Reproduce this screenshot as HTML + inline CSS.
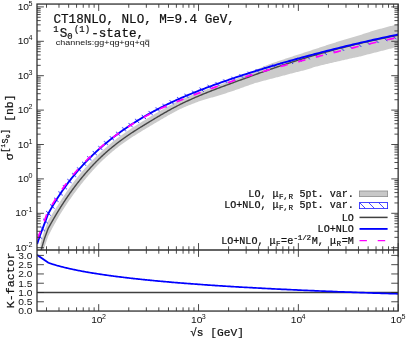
<!DOCTYPE html>
<html><head><meta charset="utf-8"><title>plot</title>
<style>html,body{margin:0;padding:0;background:#fff;}body{width:407px;height:339px;overflow:hidden;font-family:"Liberation Sans",sans-serif;}svg{display:block;}text{filter:grayscale(1);}</style>
</head><body>
<svg width="407" height="339" viewBox="0 0 407 339">
<defs>
<clipPath id="cu"><rect x="37.0" y="4.05" width="361.15" height="245.95"/></clipPath>
<clipPath id="cl"><rect x="37.0" y="250.0" width="361.15" height="61.05000000000001"/></clipPath>
<clipPath id="ch"><path d="M34.31,243.04 L34.67,242.01 L35.01,240.96 L35.35,239.91 L35.69,238.86 L36.04,237.80 L36.38,236.75 L36.72,235.70 L37.06,234.65 L37.46,233.61 L37.86,232.57 L38.26,231.53 L38.66,230.50 L39.05,229.46 L39.45,228.43 L39.85,227.39 L40.24,226.37 L40.64,225.35 L41.03,224.32 L41.42,223.30 L41.81,222.28 L42.20,221.26 L42.59,220.23 L42.99,219.18 L43.37,218.12 L43.75,217.06 L44.13,215.99 L44.51,214.92 L44.90,213.86 L45.36,212.82 L45.90,211.82 L46.45,210.82 L47.01,209.82 L47.57,208.82 L48.13,207.83 L48.69,206.84 L49.26,205.87 L49.82,204.91 L50.38,203.95 L50.95,203.00 L51.52,202.05 L52.10,201.10 L52.68,200.15 L53.27,199.20 L53.86,198.26 L54.45,197.32 L55.05,196.38 L55.65,195.45 L56.26,194.52 L56.87,193.59 L57.48,192.66 L58.10,191.74 L58.73,190.81 L59.35,189.90 L59.99,188.98 L60.62,188.07 L61.26,187.16 L61.91,186.25 L62.56,185.35 L63.21,184.45 L63.86,183.55 L64.53,182.65 L65.19,181.76 L65.86,180.87 L66.53,179.99 L67.21,179.10 L67.89,178.22 L68.58,177.35 L69.27,176.48 L69.96,175.61 L70.66,174.74 L71.36,173.88 L72.07,173.02 L72.78,172.16 L73.49,171.31 L74.21,170.46 L74.93,169.61 L75.66,168.77 L76.39,167.93 L77.12,167.09 L77.86,166.26 L78.60,165.43 L79.35,164.60 L80.10,163.78 L80.85,162.96 L81.61,162.15 L82.37,161.33 L83.14,160.53 L83.90,159.72 L84.68,158.92 L85.45,158.12 L86.23,157.33 L87.02,156.54 L87.80,155.75 L88.59,154.97 L89.39,154.19 L90.19,153.42 L90.99,152.65 L91.79,151.88 L92.60,151.12 L93.41,150.35 L94.23,149.60 L95.05,148.85 L95.87,148.10 L96.69,147.35 L97.52,146.61 L98.35,145.87 L99.19,145.14 L100.03,144.41 L100.87,143.68 L101.71,142.96 L102.56,142.24 L103.41,141.52 L104.27,140.81 L105.12,140.10 L105.98,139.40 L106.85,138.70 L107.71,138.00 L108.58,137.31 L109.46,136.62 L110.33,135.94 L111.21,135.26 L112.09,134.58 L112.97,133.90 L113.86,133.23 L114.75,132.57 L115.64,131.91 L116.53,131.25 L117.43,130.59 L118.33,129.94 L119.23,129.29 L120.14,128.65 L121.05,128.01 L121.96,127.38 L122.87,126.75 L123.79,126.12 L124.70,125.49 L125.62,124.87 L126.55,124.26 L127.47,123.64 L128.40,123.03 L129.33,122.43 L130.26,121.83 L131.20,121.23 L132.13,120.63 L133.07,120.04 L134.01,119.45 L134.95,118.87 L135.90,118.29 L136.85,117.71 L137.79,117.13 L138.75,116.56 L139.70,116.00 L140.65,115.43 L141.61,114.87 L142.57,114.32 L143.53,113.76 L144.49,113.21 L145.46,112.66 L146.42,112.12 L147.39,111.58 L148.36,111.04 L149.33,110.51 L150.30,109.98 L151.28,109.45 L152.25,108.93 L153.23,108.41 L154.21,107.89 L155.19,107.38 L156.18,106.87 L157.16,106.36 L158.15,105.85 L159.13,105.35 L160.12,104.85 L161.11,104.36 L162.10,103.86 L163.10,103.38 L164.09,102.89 L165.09,102.41 L166.08,101.93 L167.08,101.45 L168.08,100.97 L169.08,100.50 L170.09,100.03 L171.09,99.57 L172.10,99.11 L173.10,98.65 L174.11,98.19 L175.12,97.73 L176.13,97.28 L177.14,96.84 L178.15,96.39 L179.17,95.95 L180.18,95.51 L181.20,95.07 L182.21,94.64 L183.23,94.20 L184.25,93.77 L185.27,93.35 L186.29,92.92 L187.31,92.50 L188.33,92.08 L189.36,91.66 L190.38,91.25 L191.40,90.84 L192.43,90.43 L193.46,90.02 L194.48,89.61 L195.51,89.21 L196.54,88.81 L197.57,88.41 L198.60,88.01 L199.63,87.62 L200.66,87.23 L201.70,86.85 L202.74,86.47 L203.77,86.09 L204.81,85.71 L205.85,85.34 L206.88,84.96 L207.92,84.59 L208.96,84.22 L210.00,83.85 L211.04,83.49 L212.08,83.12 L213.12,82.76 L214.16,82.39 L215.20,82.03 L216.25,81.67 L217.29,81.32 L218.33,80.96 L219.37,80.61 L220.42,80.25 L221.46,79.90 L222.51,79.55 L223.55,79.20 L224.60,78.85 L225.64,78.50 L226.69,78.16 L227.73,77.81 L228.78,77.47 L229.83,77.13 L230.88,76.79 L231.92,76.45 L232.97,76.11 L234.02,75.77 L235.07,75.43 L236.12,75.10 L237.17,74.76 L238.22,74.43 L239.27,74.10 L240.32,73.77 L241.37,73.44 L242.42,73.11 L243.47,72.78 L244.52,72.46 L245.57,72.13 L246.63,71.81 L247.68,71.49 L248.73,71.16 L249.78,70.84 L250.84,70.52 L251.89,70.21 L252.94,69.89 L254.00,69.57 L255.05,69.26 L256.11,68.94 L257.16,68.63 L258.22,68.32 L259.27,68.00 L260.33,67.70 L261.39,67.40 L262.45,67.09 L263.51,66.79 L264.57,66.49 L265.63,66.19 L266.69,65.90 L267.75,65.60 L268.81,65.30 L269.87,65.01 L270.93,64.71 L271.99,64.42 L273.05,64.13 L274.11,63.84 L275.17,63.55 L276.23,63.26 L277.29,62.97 L278.36,62.68 L279.42,62.39 L280.48,62.11 L281.54,61.82 L282.61,61.54 L283.67,61.26 L284.73,60.97 L285.79,60.69 L286.86,60.41 L287.92,60.13 L288.99,59.85 L290.05,59.57 L291.11,59.30 L292.18,59.02 L293.24,58.74 L294.31,58.47 L295.37,58.19 L296.44,57.92 L297.51,57.65 L298.57,57.38 L299.64,57.11 L300.70,56.83 L301.77,56.56 L302.83,56.29 L303.90,56.02 L304.97,55.75 L306.03,55.48 L307.10,55.21 L308.17,54.95 L309.23,54.68 L310.30,54.41 L311.37,54.15 L312.43,53.88 L313.50,53.62 L314.57,53.36 L315.64,53.09 L316.70,52.83 L317.77,52.57 L318.84,52.31 L319.91,52.05 L320.98,51.79 L322.05,51.54 L323.12,51.28 L324.18,51.02 L325.25,50.77 L326.32,50.51 L327.39,50.26 L328.46,50.00 L329.53,49.75 L330.60,49.50 L331.67,49.25 L332.74,49.00 L333.81,48.75 L334.89,48.50 L335.96,48.25 L337.03,48.01 L338.10,47.76 L339.17,47.51 L340.24,47.27 L341.31,47.01 L342.38,46.75 L343.45,46.50 L344.52,46.24 L345.59,45.99 L346.66,45.74 L347.73,45.48 L348.80,45.23 L349.87,44.98 L350.94,44.73 L352.01,44.48 L353.08,44.23 L354.15,43.99 L355.22,43.74 L356.29,43.50 L357.36,43.25 L358.43,43.01 L359.51,42.76 L360.58,42.52 L361.65,42.28 L362.72,42.04 L363.79,41.80 L364.87,41.56 L365.94,41.32 L367.01,41.08 L368.09,40.84 L369.16,40.61 L370.23,40.37 L371.31,40.14 L372.38,39.90 L373.45,39.67 L374.53,39.44 L375.60,39.21 L376.68,38.97 L377.75,38.74 L378.83,38.52 L379.90,38.29 L380.98,38.06 L382.05,37.83 L383.13,37.61 L384.20,37.38 L385.28,37.16 L386.35,36.93 L387.43,36.71 L388.51,36.49 L389.58,36.27 L390.66,36.05 L391.74,35.83 L392.81,35.61 L393.89,35.39 L394.97,35.17 L396.04,34.96 L397.12,34.74 L398.20,34.53 L399.07,38.74 L397.99,38.96 L396.92,39.17 L395.84,39.39 L394.77,39.61 L393.69,39.83 L392.62,40.05 L391.54,40.27 L390.47,40.49 L389.40,40.71 L388.33,40.94 L387.25,41.16 L386.18,41.38 L385.11,41.61 L384.04,41.84 L382.96,42.06 L381.89,42.29 L380.82,42.52 L379.75,42.75 L378.68,42.98 L377.61,43.21 L376.54,43.44 L375.46,43.68 L374.39,43.91 L373.32,44.14 L372.25,44.38 L371.18,44.61 L370.11,44.85 L369.04,45.09 L367.97,45.33 L366.90,45.56 L365.84,45.80 L364.77,46.05 L363.70,46.29 L362.63,46.53 L361.56,46.77 L360.49,47.02 L359.42,47.26 L358.36,47.51 L357.29,47.75 L356.22,48.00 L355.15,48.25 L354.09,48.49 L353.02,48.74 L351.95,48.99 L350.88,49.24 L349.82,49.50 L348.75,49.75 L347.69,50.00 L346.62,50.26 L345.55,50.51 L344.49,50.77 L343.42,51.02 L342.36,51.28 L341.29,51.54 L340.23,51.79 L339.16,52.05 L338.10,52.30 L337.03,52.56 L335.96,52.82 L334.90,53.08 L333.83,53.34 L332.77,53.60 L331.70,53.86 L330.64,54.12 L329.58,54.38 L328.51,54.64 L327.45,54.91 L326.38,55.17 L325.32,55.44 L324.26,55.70 L323.19,55.97 L322.13,56.24 L321.07,56.50 L320.01,56.77 L318.94,57.04 L317.88,57.31 L316.82,57.58 L315.76,57.85 L314.69,58.13 L313.63,58.40 L312.57,58.67 L311.51,58.95 L310.45,59.22 L309.39,59.50 L308.33,59.78 L307.27,60.05 L306.21,60.33 L305.15,60.61 L304.09,60.89 L303.03,61.17 L301.97,61.45 L300.91,61.73 L299.85,62.00 L298.78,62.28 L297.72,62.55 L296.66,62.82 L295.60,63.09 L294.54,63.37 L293.47,63.64 L292.41,63.92 L291.35,64.19 L290.29,64.47 L289.23,64.75 L288.17,65.03 L287.11,65.31 L286.05,65.59 L284.99,65.87 L283.93,66.15 L282.87,66.44 L281.81,66.72 L280.76,67.00 L279.70,67.29 L278.64,67.58 L277.58,67.86 L276.52,68.15 L275.47,68.44 L274.41,68.73 L273.35,69.02 L272.30,69.32 L271.24,69.61 L270.18,69.90 L269.13,70.20 L268.07,70.49 L267.02,70.79 L265.96,71.09 L264.91,71.39 L263.85,71.69 L262.80,71.99 L261.74,72.29 L260.69,72.59 L259.64,72.91 L258.59,73.23 L257.54,73.55 L256.49,73.87 L255.45,74.19 L254.40,74.51 L253.35,74.83 L252.30,75.15 L251.26,75.48 L250.21,75.81 L249.17,76.13 L248.12,76.46 L247.07,76.79 L246.03,77.12 L244.98,77.45 L243.94,77.78 L242.90,78.12 L241.85,78.45 L240.81,78.79 L239.77,79.12 L238.72,79.46 L237.68,79.80 L236.64,80.14 L235.60,80.48 L234.56,80.82 L233.52,81.17 L232.48,81.51 L231.44,81.86 L230.40,82.20 L229.36,82.55 L228.32,82.90 L227.28,83.25 L226.24,83.60 L225.21,83.96 L224.17,84.31 L223.13,84.67 L222.10,85.02 L221.06,85.38 L220.03,85.74 L218.99,86.10 L217.96,86.46 L216.93,86.83 L215.90,87.19 L214.86,87.56 L213.83,87.92 L212.80,88.29 L211.77,88.66 L210.74,89.04 L209.71,89.41 L208.68,89.79 L207.66,90.16 L206.63,90.54 L205.60,90.92 L204.58,91.31 L203.55,91.69 L202.53,92.07 L201.51,92.46 L200.49,92.86 L199.47,93.26 L198.45,93.66 L197.44,94.07 L196.42,94.47 L195.41,94.88 L194.39,95.29 L193.38,95.71 L192.37,96.12 L191.36,96.54 L190.35,96.96 L189.34,97.38 L188.34,97.81 L187.33,98.23 L186.33,98.66 L185.32,99.09 L184.32,99.53 L183.32,99.96 L182.32,100.40 L181.32,100.84 L180.32,101.29 L179.33,101.73 L178.33,102.18 L177.34,102.63 L176.35,103.09 L175.35,103.55 L174.37,104.01 L173.38,104.47 L172.39,104.94 L171.40,105.40 L170.42,105.88 L169.44,106.35 L168.46,106.83 L167.48,107.31 L166.50,107.79 L165.52,108.28 L164.55,108.76 L163.57,109.26 L162.60,109.75 L161.63,110.25 L160.66,110.75 L159.70,111.25 L158.73,111.76 L157.77,112.27 L156.81,112.78 L155.84,113.29 L154.89,113.81 L153.93,114.33 L152.97,114.86 L152.02,115.39 L151.07,115.92 L150.12,116.45 L149.17,116.99 L148.23,117.53 L147.28,118.07 L146.34,118.62 L145.40,119.17 L144.46,119.72 L143.53,120.28 L142.59,120.84 L141.66,121.40 L140.73,121.97 L139.80,122.54 L138.88,123.11 L137.95,123.69 L137.03,124.27 L136.11,124.85 L135.20,125.44 L134.28,126.03 L133.37,126.62 L132.46,127.21 L131.55,127.81 L130.65,128.42 L129.74,129.02 L128.84,129.63 L127.94,130.25 L127.05,130.86 L126.15,131.49 L125.26,132.11 L124.38,132.74 L123.49,133.37 L122.61,134.00 L121.73,134.64 L120.85,135.28 L119.97,135.92 L119.10,136.57 L118.23,137.22 L117.36,137.87 L116.49,138.53 L115.63,139.19 L114.77,139.85 L113.91,140.52 L113.06,141.19 L112.21,141.87 L111.36,142.55 L110.51,143.23 L109.67,143.92 L108.83,144.61 L108.00,145.30 L107.16,146.00 L106.33,146.70 L105.50,147.40 L104.68,148.11 L103.86,148.82 L103.04,149.53 L102.23,150.25 L101.42,150.97 L100.61,151.70 L99.80,152.43 L99.00,153.16 L98.21,153.90 L97.41,154.64 L96.62,155.38 L95.83,156.13 L95.05,156.88 L94.27,157.63 L93.49,158.39 L92.72,159.15 L91.95,159.91 L91.18,160.68 L90.42,161.46 L89.66,162.23 L88.90,163.01 L88.15,163.79 L87.40,164.58 L86.66,165.37 L85.92,166.16 L85.18,166.96 L84.45,167.76 L83.72,168.56 L82.99,169.36 L82.27,170.17 L81.55,170.99 L80.84,171.80 L80.12,172.62 L79.42,173.45 L78.71,174.27 L78.02,175.10 L77.32,175.94 L76.63,176.77 L75.94,177.61 L75.26,178.46 L74.58,179.30 L73.90,180.15 L73.23,181.00 L72.56,181.86 L71.90,182.72 L71.24,183.58 L70.59,184.44 L69.93,185.31 L69.29,186.18 L68.64,187.06 L68.00,187.93 L67.37,188.81 L66.74,189.69 L66.11,190.58 L65.49,191.47 L64.87,192.36 L64.25,193.25 L63.64,194.15 L63.03,195.05 L62.43,195.95 L61.83,196.86 L61.24,197.77 L60.65,198.68 L60.06,199.59 L59.48,200.51 L58.90,201.43 L58.32,202.35 L57.75,203.27 L57.19,204.20 L56.62,205.13 L56.06,206.06 L55.51,206.99 L54.96,207.93 L54.41,208.87 L53.87,209.80 L53.35,210.72 L52.83,211.64 L52.31,212.55 L51.80,213.48 L51.29,214.40 L50.78,215.33 L50.35,216.30 L49.99,217.30 L49.64,218.30 L49.28,219.31 L48.93,220.31 L48.57,221.32 L48.19,222.33 L47.80,223.35 L47.40,224.38 L47.01,225.42 L46.62,226.45 L46.22,227.48 L45.83,228.51 L45.44,229.54 L45.05,230.56 L44.66,231.57 L44.27,232.59 L43.88,233.60 L43.49,234.62 L43.10,235.63 L42.71,236.65 L42.37,237.68 L42.04,238.72 L41.70,239.76 L41.36,240.80 L41.03,241.84 L40.69,242.87 L40.35,243.92 L39.99,244.96Z"/></clipPath>
<pattern id="hp" width="10.65" height="10.65" patternUnits="userSpaceOnUse" patternTransform="translate(5.55,0)"><path d="M-1,-1 L11.65,11.65 M-1,9.65 L1,11.65 M9.65,-1 L11.65,1" stroke="#0000ff" stroke-width="0.85" fill="none"/></pattern>
</defs>
<rect width="407" height="339" fill="#fff"/>
<g clip-path="url(#cu)">
<path d="M40.60,243.23 L40.84,242.40 L41.08,241.56 L41.32,240.73 L41.56,239.89 L41.80,239.06 L42.04,238.23 L42.28,237.40 L42.53,236.56 L42.77,235.73 L43.01,234.90 L43.26,234.07 L43.50,233.24 L43.75,232.40 L43.99,231.57 L44.23,230.77 L44.52,229.99 L44.82,229.22 L45.13,228.44 L45.43,227.67 L45.73,226.90 L46.03,226.13 L46.33,225.36 L46.64,224.58 L46.94,223.81 L47.24,223.04 L47.54,222.27 L47.85,221.49 L48.15,220.72 L48.53,220.00 L48.95,219.30 L49.38,218.61 L49.81,217.92 L50.23,217.22 L50.66,216.53 L51.09,215.84 L51.53,215.15 L51.96,214.46 L52.40,213.75 L52.83,213.03 L53.27,212.31 L53.71,211.59 L54.15,210.88 L54.60,210.16 L55.04,209.45 L55.49,208.74 L55.94,208.03 L56.39,207.32 L56.84,206.61 L57.30,205.90 L57.75,205.20 L58.21,204.49 L58.67,203.79 L59.13,203.09 L59.60,202.39 L60.06,201.69 L60.53,200.95 L61.00,200.22 L61.47,199.49 L61.94,198.76 L62.42,198.03 L62.90,197.31 L63.38,196.58 L63.86,195.86 L64.34,195.13 L64.83,194.41 L65.31,193.69 L65.80,192.97 L66.29,192.26 L66.79,191.54 L67.28,190.83 L67.78,190.12 L68.28,189.40 L68.78,188.69 L69.29,187.99 L69.79,187.28 L70.30,186.58 L70.81,185.87 L71.33,185.17 L71.84,184.47 L72.36,183.77 L72.88,183.08 L73.40,182.38 L73.92,181.69 L74.45,181.00 L74.98,180.31 L75.51,179.62 L76.04,178.93 L76.58,178.25 L77.12,177.57 L77.66,176.90 L78.20,176.23 L78.74,175.56 L79.29,174.90 L79.84,174.24 L80.39,173.58 L80.94,172.92 L81.50,172.26 L82.06,171.61 L82.62,170.96 L83.18,170.31 L83.75,169.66 L84.32,169.01 L84.89,168.37 L85.46,167.73 L86.04,167.09 L86.61,166.45 L87.19,165.82 L87.78,165.18 L88.36,164.55 L88.95,163.93 L89.54,163.30 L90.13,162.68 L90.73,162.06 L91.32,161.44 L91.92,160.82 L92.53,160.21 L93.13,159.60 L93.74,158.99 L94.35,158.38 L94.96,157.78 L95.57,157.18 L96.19,156.58 L96.81,155.98 L97.43,155.39 L98.06,154.80 L98.69,154.21 L99.32,153.62 L99.95,153.04 L100.58,152.44 L101.22,151.84 L101.86,151.25 L102.50,150.65 L103.15,150.06 L103.80,149.48 L104.45,148.89 L105.10,148.31 L105.76,147.73 L106.41,147.15 L107.07,146.58 L107.74,146.01 L108.40,145.44 L109.07,144.88 L109.74,144.32 L110.41,143.76 L111.09,143.20 L111.76,142.65 L112.44,142.10 L113.12,141.55 L113.81,141.00 L114.49,140.46 L115.18,139.92 L115.87,139.39 L116.57,138.85 L117.26,138.32 L117.96,137.79 L118.66,137.27 L119.36,136.74 L120.06,136.22 L120.77,135.71 L121.47,135.19 L122.18,134.68 L122.90,134.17 L123.61,133.67 L124.32,133.16 L125.04,132.66 L125.76,132.16 L126.48,131.67 L127.20,131.17 L127.93,130.68 L128.65,130.19 L129.38,129.71 L130.11,129.23 L130.84,128.75 L131.57,128.27 L132.31,127.79 L133.04,127.32 L133.78,126.85 L134.52,126.38 L135.26,125.91 L136.00,125.45 L136.74,124.98 L137.49,124.52 L138.23,124.06 L138.97,123.60 L139.72,123.14 L140.47,122.68 L141.21,122.22 L141.96,121.76 L142.71,121.30 L143.46,120.84 L144.21,120.38 L144.96,119.92 L145.71,119.46 L146.46,119.01 L147.21,118.55 L147.96,118.10 L148.71,117.64 L149.47,117.19 L150.22,116.73 L150.97,116.28 L151.72,115.83 L152.48,115.37 L153.23,114.92 L153.98,114.47 L154.74,114.01 L155.49,113.56 L156.24,113.11 L157.00,112.66 L157.75,112.21 L158.51,111.76 L159.27,111.31 L160.02,110.87 L160.78,110.43 L161.54,110.00 L162.30,109.57 L163.06,109.14 L163.82,108.71 L164.58,108.29 L165.34,107.86 L166.11,107.44 L166.87,107.02 L167.64,106.60 L168.41,106.18 L169.18,105.77 L169.94,105.35 L170.72,104.94 L171.49,104.53 L172.26,104.13 L173.04,103.72 L173.81,103.32 L174.59,102.93 L175.37,102.53 L176.15,102.14 L176.93,101.74 L177.71,101.36 L178.49,100.97 L179.28,100.58 L180.06,100.21 L180.85,99.84 L181.64,99.48 L182.43,99.12 L183.22,98.76 L184.01,98.41 L184.80,98.06 L185.60,97.71 L186.39,97.36 L187.19,97.02 L187.98,96.67 L188.78,96.33 L189.58,96.00 L190.38,95.66 L191.18,95.33 L191.98,95.00 L192.79,94.67 L193.59,94.34 L194.40,94.01 L195.20,93.69 L196.01,93.37 L196.82,93.05 L197.62,92.73 L198.43,92.42 L199.24,92.11 L200.05,91.80 L200.86,91.49 L201.68,91.19 L202.49,90.89 L203.30,90.59 L204.12,90.29 L204.93,89.99 L205.75,89.70 L206.56,89.40 L207.38,89.11 L208.20,88.82 L209.01,88.53 L209.83,88.24 L210.65,87.95 L211.47,87.67 L212.29,87.38 L213.11,87.10 L213.93,86.81 L214.75,86.53 L215.57,86.23 L216.39,85.93 L217.21,85.62 L218.03,85.31 L218.86,85.01 L219.68,84.71 L220.50,84.40 L221.32,84.10 L222.15,83.80 L222.97,83.50 L223.79,83.20 L224.62,82.90 L225.44,82.60 L226.27,82.30 L227.09,82.01 L227.92,81.71 L228.74,81.41 L229.57,81.12 L230.39,80.82 L231.22,80.52 L232.04,80.23 L232.87,79.93 L233.69,79.64 L234.52,79.34 L235.34,79.05 L236.17,78.75 L236.99,78.46 L237.82,78.16 L238.64,77.87 L239.47,77.57 L240.30,77.24 L241.12,76.84 L241.95,76.44 L242.77,76.04 L243.60,75.64 L244.42,75.24 L245.25,74.84 L246.08,74.44 L246.90,74.04 L247.73,73.64 L248.55,73.24 L249.38,72.84 L250.21,72.45 L251.03,72.05 L251.86,71.65 L252.69,71.25 L253.51,70.85 L254.34,70.46 L255.17,70.07 L255.99,69.72 L256.82,69.38 L257.65,69.03 L258.48,68.69 L259.30,68.34 L260.13,68.00 L260.96,67.66 L261.79,67.31 L262.62,66.97 L263.45,66.63 L264.27,66.29 L265.10,65.94 L265.93,65.60 L266.76,65.26 L267.59,64.93 L268.42,64.59 L269.25,64.25 L270.08,63.92 L270.91,63.63 L271.75,63.34 L272.58,63.06 L273.41,62.77 L274.24,62.49 L275.07,62.21 L275.90,61.92 L276.74,61.64 L277.57,61.36 L278.40,61.08 L279.24,60.80 L280.07,60.52 L280.90,60.25 L281.74,59.97 L282.57,59.69 L283.41,59.42 L284.24,59.14 L285.08,58.87 L285.91,58.59 L286.75,58.31 L287.58,58.04 L288.42,57.76 L289.25,57.48 L290.09,57.21 L290.93,56.94 L291.77,56.66 L292.60,56.39 L293.44,56.12 L294.28,55.85 L295.12,55.58 L295.96,55.31 L296.79,55.04 L297.63,54.78 L298.47,54.51 L299.31,54.24 L300.15,53.98 L300.99,53.70 L301.83,53.42 L302.67,53.14 L303.51,52.86 L304.35,52.58 L305.20,52.31 L306.04,52.03 L306.88,51.75 L307.72,51.48 L308.56,51.21 L309.41,50.93 L310.25,50.66 L311.09,50.39 L311.94,50.12 L312.78,49.85 L313.62,49.58 L314.47,49.32 L315.31,49.04 L316.15,48.75 L317.00,48.47 L317.84,48.18 L318.69,47.89 L319.54,47.61 L320.38,47.32 L321.23,47.04 L322.07,46.76 L322.92,46.48 L323.77,46.20 L324.61,45.91 L325.46,45.64 L326.31,45.36 L327.15,45.08 L328.00,44.80 L328.85,44.53 L329.70,44.25 L330.55,43.98 L331.40,43.71 L332.24,43.45 L333.09,43.18 L333.94,42.91 L334.79,42.65 L335.64,42.38 L336.49,42.12 L337.34,41.86 L338.19,41.60 L339.04,41.34 L339.89,41.08 L340.75,40.82 L341.60,40.56 L342.45,40.30 L343.30,40.05 L344.15,39.79 L345.00,39.54 L345.86,39.28 L346.71,39.02 L347.56,38.76 L348.41,38.50 L349.27,38.25 L350.12,37.99 L350.97,37.74 L351.83,37.48 L352.68,37.23 L353.54,36.98 L354.39,36.72 L355.24,36.47 L356.10,36.22 L356.95,35.97 L357.81,35.73 L358.66,35.48 L359.52,35.23 L360.38,34.97 L361.23,34.68 L362.09,34.40 L362.94,34.12 L363.80,33.83 L364.66,33.55 L365.51,33.27 L366.37,32.99 L367.23,32.71 L368.09,32.43 L368.94,32.15 L369.80,31.88 L370.66,31.60 L371.52,31.32 L372.38,31.05 L373.23,30.77 L374.09,30.50 L374.95,30.23 L375.81,30.00 L376.67,29.77 L377.53,29.54 L378.39,29.32 L379.25,29.09 L380.11,28.87 L380.97,28.64 L381.83,28.42 L382.69,28.20 L383.55,27.97 L384.41,27.75 L385.27,27.53 L386.13,27.31 L386.99,27.09 L387.85,26.85 L388.71,26.61 L389.58,26.36 L390.44,26.12 L391.30,25.88 L392.16,25.64 L393.02,25.40 L393.89,25.16 L394.75,24.93 L395.61,24.69 L396.47,24.45 L397.34,24.22 L398.20,23.98 L398.20,46.68 L397.34,46.89 L396.47,47.11 L395.61,47.32 L394.75,47.54 L393.89,47.75 L393.02,47.97 L392.16,48.19 L391.30,48.41 L390.44,48.63 L389.58,48.85 L388.71,49.07 L387.85,49.29 L386.99,49.51 L386.13,49.73 L385.27,49.96 L384.41,50.18 L383.55,50.41 L382.69,50.63 L381.83,50.86 L380.97,51.09 L380.11,51.32 L379.25,51.53 L378.39,51.74 L377.53,51.96 L376.67,52.17 L375.81,52.38 L374.95,52.60 L374.09,52.82 L373.23,53.03 L372.38,53.25 L371.52,53.47 L370.66,53.69 L369.80,53.91 L368.94,54.13 L368.09,54.36 L367.23,54.58 L366.37,54.80 L365.51,55.03 L364.66,55.25 L363.80,55.48 L362.94,55.71 L362.09,55.94 L361.23,56.16 L360.38,56.39 L359.52,56.59 L358.66,56.77 L357.81,56.95 L356.95,57.14 L356.10,57.32 L355.24,57.50 L354.39,57.69 L353.54,57.87 L352.68,58.06 L351.83,58.24 L350.97,58.43 L350.12,58.62 L349.27,58.81 L348.41,58.99 L347.56,59.19 L346.71,59.38 L345.86,59.57 L345.00,59.76 L344.15,59.96 L343.30,60.15 L342.45,60.35 L341.60,60.54 L340.75,60.74 L339.89,60.94 L339.04,61.13 L338.19,61.32 L337.34,61.51 L336.49,61.71 L335.64,61.90 L334.79,62.10 L333.94,62.29 L333.09,62.49 L332.24,62.69 L331.40,62.88 L330.55,63.08 L329.70,63.28 L328.85,63.49 L328.00,63.69 L327.15,63.89 L326.31,64.09 L325.46,64.30 L324.61,64.50 L323.77,64.71 L322.92,64.92 L322.07,65.12 L321.23,65.33 L320.38,65.54 L319.54,65.75 L318.69,65.97 L317.84,66.18 L317.00,66.39 L316.15,66.62 L315.31,66.87 L314.47,67.12 L313.62,67.37 L312.78,67.62 L311.94,67.88 L311.09,68.13 L310.25,68.39 L309.41,68.64 L308.56,68.90 L307.72,69.16 L306.88,69.41 L306.04,69.67 L305.20,69.93 L304.35,70.19 L303.51,70.42 L302.67,70.63 L301.83,70.84 L300.99,71.05 L300.15,71.26 L299.31,71.47 L298.47,71.68 L297.63,71.89 L296.79,72.10 L295.96,72.32 L295.12,72.53 L294.28,72.74 L293.44,72.96 L292.60,73.18 L291.77,73.40 L290.93,73.61 L290.09,73.83 L289.25,74.05 L288.42,74.27 L287.58,74.50 L286.75,74.72 L285.91,74.94 L285.08,75.17 L284.24,75.39 L283.41,75.62 L282.57,75.84 L281.74,76.07 L280.90,76.30 L280.07,76.53 L279.24,76.74 L278.40,76.95 L277.57,77.16 L276.74,77.37 L275.90,77.58 L275.07,77.79 L274.24,78.01 L273.41,78.22 L272.58,78.44 L271.75,78.65 L270.91,78.87 L270.08,79.08 L269.25,79.30 L268.42,79.52 L267.59,79.74 L266.76,79.96 L265.93,80.18 L265.10,80.40 L264.27,80.62 L263.45,80.84 L262.62,81.07 L261.79,81.29 L260.96,81.51 L260.13,81.74 L259.30,81.96 L258.48,82.19 L257.65,82.41 L256.82,82.64 L255.99,82.87 L255.17,83.09 L254.34,83.37 L253.51,83.66 L252.69,83.95 L251.86,84.24 L251.03,84.53 L250.21,84.83 L249.38,85.12 L248.55,85.41 L247.73,85.70 L246.90,86.00 L246.08,86.29 L245.25,86.58 L244.42,86.87 L243.60,87.17 L242.77,87.46 L241.95,87.75 L241.12,88.05 L240.30,88.34 L239.47,88.63 L238.64,88.93 L237.82,89.22 L236.99,89.52 L236.17,89.81 L235.34,90.10 L234.52,90.40 L233.69,90.69 L232.87,90.98 L232.04,91.25 L231.22,91.52 L230.39,91.78 L229.57,92.05 L228.74,92.32 L227.92,92.59 L227.09,92.86 L226.27,93.13 L225.44,93.40 L224.62,93.67 L223.79,93.94 L222.97,94.21 L222.15,94.48 L221.32,94.75 L220.50,95.03 L219.68,95.30 L218.86,95.56 L218.03,95.79 L217.21,96.01 L216.39,96.24 L215.57,96.47 L214.75,96.69 L213.93,96.92 L213.11,97.15 L212.29,97.38 L211.47,97.61 L210.65,97.85 L209.83,98.08 L209.01,98.32 L208.20,98.55 L207.38,98.79 L206.56,99.03 L205.75,99.27 L204.93,99.51 L204.12,99.76 L203.30,100.00 L202.49,100.25 L201.68,100.50 L200.86,100.75 L200.05,101.00 L199.24,101.30 L198.43,101.60 L197.62,101.90 L196.82,102.20 L196.01,102.51 L195.20,102.82 L194.40,103.13 L193.59,103.44 L192.79,103.76 L191.98,104.07 L191.18,104.39 L190.38,104.72 L189.58,105.04 L188.78,105.37 L187.98,105.69 L187.19,106.02 L186.39,106.36 L185.60,106.69 L184.80,107.03 L184.01,107.37 L183.22,107.71 L182.43,108.06 L181.64,108.40 L180.85,108.75 L180.06,109.11 L179.28,109.50 L178.49,109.91 L177.71,110.31 L176.93,110.72 L176.15,111.13 L175.37,111.54 L174.59,111.96 L173.81,112.38 L173.04,112.80 L172.26,113.22 L171.49,113.65 L170.72,114.07 L169.94,114.50 L169.18,114.94 L168.41,115.37 L167.64,115.81 L166.87,116.24 L166.11,116.69 L165.34,117.13 L164.58,117.57 L163.82,118.02 L163.06,118.46 L162.30,118.91 L161.54,119.36 L160.78,119.81 L160.02,120.27 L159.27,120.71 L158.51,121.15 L157.75,121.59 L157.00,122.04 L156.24,122.48 L155.49,122.93 L154.74,123.37 L153.98,123.82 L153.23,124.27 L152.48,124.71 L151.72,125.16 L150.97,125.61 L150.22,126.06 L149.47,126.51 L148.71,126.96 L147.96,127.41 L147.21,127.86 L146.46,128.31 L145.71,128.76 L144.96,129.21 L144.21,129.66 L143.46,130.11 L142.71,130.57 L141.96,131.02 L141.21,131.48 L140.47,131.94 L139.72,132.39 L138.97,132.85 L138.23,133.32 L137.49,133.78 L136.74,134.24 L136.00,134.71 L135.26,135.17 L134.52,135.64 L133.78,136.11 L133.04,136.59 L132.31,137.06 L131.57,137.54 L130.84,138.02 L130.11,138.50 L129.38,138.99 L128.65,139.47 L127.93,139.96 L127.20,140.46 L126.48,140.95 L125.76,141.45 L125.04,141.95 L124.32,142.45 L123.61,142.96 L122.90,143.46 L122.18,143.98 L121.47,144.49 L120.77,145.00 L120.06,145.52 L119.36,146.06 L118.66,146.61 L117.96,147.15 L117.26,147.70 L116.57,148.25 L115.87,148.81 L115.18,149.37 L114.49,149.93 L113.81,150.49 L113.12,151.05 L112.44,151.62 L111.76,152.19 L111.09,152.77 L110.41,153.34 L109.74,153.92 L109.07,154.51 L108.40,155.09 L107.74,155.68 L107.07,156.27 L106.41,156.86 L105.76,157.46 L105.10,158.06 L104.45,158.66 L103.80,159.26 L103.15,159.87 L102.50,160.48 L101.86,161.09 L101.22,161.71 L100.58,162.32 L99.95,162.95 L99.32,163.59 L98.69,164.23 L98.06,164.87 L97.43,165.52 L96.81,166.17 L96.19,166.82 L95.57,167.48 L94.96,168.14 L94.35,168.80 L93.74,169.46 L93.13,170.12 L92.53,170.79 L91.92,171.46 L91.32,172.13 L90.73,172.80 L90.13,173.48 L89.54,174.15 L88.95,174.83 L88.36,175.52 L87.78,176.20 L87.19,176.89 L86.61,177.57 L86.04,178.26 L85.46,178.96 L84.89,179.65 L84.32,180.35 L83.75,181.04 L83.18,181.74 L82.62,182.44 L82.06,183.15 L81.50,183.85 L80.94,184.56 L80.39,185.27 L79.84,185.98 L79.29,186.69 L78.74,187.41 L78.20,188.12 L77.66,188.84 L77.12,189.56 L76.58,190.27 L76.04,190.98 L75.51,191.69 L74.98,192.40 L74.45,193.12 L73.92,193.83 L73.40,194.55 L72.88,195.27 L72.36,195.99 L71.84,196.71 L71.33,197.44 L70.81,198.16 L70.30,198.89 L69.79,199.62 L69.29,200.35 L68.78,201.08 L68.28,201.81 L67.78,202.55 L67.28,203.28 L66.79,204.02 L66.29,204.76 L65.80,205.50 L65.31,206.24 L64.83,206.99 L64.34,207.73 L63.86,208.47 L63.38,209.22 L62.90,209.97 L62.42,210.72 L61.94,211.47 L61.47,212.22 L61.00,212.97 L60.53,213.73 L60.06,214.48 L59.60,215.27 L59.13,216.06 L58.67,216.86 L58.21,217.65 L57.75,218.45 L57.30,219.24 L56.84,220.04 L56.39,220.84 L55.94,221.64 L55.49,222.44 L55.04,223.24 L54.60,224.04 L54.15,224.85 L53.71,225.65 L53.27,226.46 L52.83,227.26 L52.40,228.07 L51.96,228.88 L51.53,229.72 L51.09,230.56 L50.66,231.40 L50.23,232.24 L49.81,233.08 L49.38,233.93 L48.95,234.77 L48.53,235.61 L48.15,236.47 L47.85,237.35 L47.54,238.23 L47.24,239.10 L46.94,239.98 L46.64,240.86 L46.33,241.74 L46.03,242.62 L45.73,243.49 L45.43,244.37 L45.13,245.25 L44.82,246.13 L44.52,247.01 L44.23,247.89 L43.99,248.77 L43.75,249.63 L43.50,250.49 L43.26,251.34 L43.01,252.20 L42.77,253.06 L42.53,253.91 L42.28,254.77 L42.04,255.62 L41.80,256.48 L41.56,257.34 L41.32,258.20 L41.08,259.05 L40.84,259.91 L40.60,260.77Z" fill="#cbcbcb"/>
<g clip-path="url(#ch)"><rect x="30" y="0" width="380" height="260" fill="url(#hp)"/></g>
<path d="M40.60,252.00 L41.90,247.40 L44.30,239.10 L48.25,228.32 L48.59,227.70 L48.94,227.07 L49.28,226.44 L49.63,225.81 L49.98,225.18 L50.34,224.55 L50.69,223.91 L51.05,223.27 L51.41,222.63 L51.78,221.99 L52.15,221.34 L52.52,220.70 L52.89,220.05 L53.26,219.40 L53.64,218.75 L54.02,218.09 L54.40,217.44 L54.79,216.78 L55.18,216.12 L55.57,215.46 L55.96,214.80 L56.36,214.14 L56.76,213.47 L57.16,212.81 L57.56,212.14 L57.97,211.47 L58.38,210.80 L58.79,210.13 L59.21,209.45 L59.63,208.78 L60.05,208.10 L60.48,207.42 L60.91,206.74 L61.34,206.06 L61.77,205.38 L62.21,204.70 L62.65,204.02 L63.09,203.33 L63.54,202.65 L63.99,201.96 L64.44,201.27 L64.90,200.58 L65.36,199.90 L65.82,199.21 L66.29,198.51 L66.76,197.82 L67.23,197.13 L67.71,196.44 L68.19,195.74 L68.67,195.05 L69.16,194.35 L69.65,193.66 L70.14,192.96 L70.64,192.26 L71.14,191.56 L71.64,190.87 L72.15,190.17 L72.66,189.47 L73.18,188.77 L73.69,188.07 L74.22,187.37 L74.74,186.67 L75.27,185.97 L75.80,185.27 L76.34,184.57 L76.88,183.87 L77.43,183.16 L77.98,182.46 L78.53,181.76 L79.08,181.06 L79.64,180.36 L80.21,179.66 L80.78,178.95 L81.35,178.25 L81.92,177.55 L82.50,176.85 L83.09,176.15 L83.68,175.45 L84.27,174.75 L84.87,174.05 L85.47,173.35 L86.07,172.65 L86.68,171.95 L87.30,171.25 L87.92,170.56 L88.54,169.86 L89.17,169.16 L89.80,168.47 L90.43,167.77 L91.07,167.08 L91.72,166.39 L92.37,165.70 L93.02,165.00 L93.68,164.32 L94.35,163.63 L95.01,162.94 L95.69,162.25 L96.37,161.57 L97.05,160.88 L97.74,160.20 L98.43,159.52 L99.13,158.84 L99.83,158.16 L100.53,157.48 L101.25,156.81 L101.96,156.13 L102.69,155.46 L103.41,154.79 L104.15,154.12 L104.88,153.45 L105.63,152.79 L106.38,152.12 L107.13,151.46 L107.89,150.80 L108.65,150.14 L109.42,149.49 L110.20,148.83 L110.98,148.18 L111.76,147.53 L112.56,146.88 L113.35,146.23 L114.16,145.59 L114.96,144.94 L115.78,144.30 L116.60,143.66 L117.42,143.02 L118.26,142.38 L119.09,141.75 L119.94,141.12 L120.79,140.48 L121.64,139.85 L122.50,139.23 L123.37,138.60 L124.25,137.97 L125.13,137.35 L126.01,136.73 L126.91,136.11 L127.80,135.49 L128.71,134.87 L129.62,134.25 L130.54,133.64 L131.46,133.03 L132.40,132.41 L133.33,131.80 L134.28,131.19 L135.23,130.58 L136.19,129.97 L137.15,129.36 L138.12,128.74 L139.10,128.13 L140.09,127.52 L141.08,126.90 L142.08,126.29 L143.09,125.67 L144.10,125.05 L145.12,124.42 L146.15,123.80 L147.18,123.17 L148.23,122.54 L149.28,121.90 L150.33,121.26 L151.40,120.62 L152.47,119.98 L153.55,119.33 L154.64,118.67 L155.73,118.01 L156.84,117.36 L157.95,116.69 L159.07,116.03 L160.19,115.37 L161.33,114.70 L162.47,114.03 L163.62,113.37 L164.78,112.70 L165.95,112.04 L167.12,111.37 L168.31,110.71 L169.50,110.05 L170.70,109.39 L171.91,108.73 L173.13,108.08 L174.35,107.43 L175.59,106.78 L176.83,106.14 L178.08,105.50 L179.35,104.86 L180.62,104.23 L181.90,103.60 L183.18,102.97 L184.48,102.34 L185.79,101.72 L187.11,101.10 L188.43,100.49 L189.77,99.88 L191.11,99.27 L192.46,98.66 L193.83,98.06 L195.20,97.46 L196.58,96.86 L197.97,96.27 L199.38,95.68 L200.79,95.09 L202.21,94.50 L203.64,93.91 L205.09,93.33 L206.54,92.75 L208.00,92.17 L209.48,91.58 L210.96,91.00 L212.45,90.42 L213.96,89.84 L215.48,89.26 L217.00,88.68 L218.54,88.10 L220.09,87.52 L221.65,86.93 L223.22,86.35 L224.80,85.76 L226.39,85.17 L227.99,84.58 L229.61,83.98 L231.23,83.39 L232.87,82.79 L234.52,82.18 L236.18,81.58 L237.86,80.96 L239.54,80.35 L241.24,79.73 L242.95,79.11 L244.67,78.48 L246.40,77.85 L248.15,77.22 L249.90,76.58 L251.67,75.94 L253.46,75.30 L255.25,74.65 L257.06,74.00 L258.88,73.35 L260.72,72.70 L262.56,72.05 L264.42,71.39 L266.30,70.73 L268.18,70.08 L270.08,69.42 L271.99,68.76 L273.92,68.10 L275.86,67.44 L277.82,66.78 L279.78,66.12 L281.77,65.46 L283.76,64.80 L285.77,64.14 L287.80,63.48 L289.84,62.83 L291.89,62.17 L293.96,61.51 L296.04,60.86 L298.14,60.20 L300.25,59.55 L302.37,58.90 L304.52,58.25 L306.67,57.60 L308.85,56.95 L311.03,56.30 L313.24,55.66 L315.46,55.02 L317.69,54.37 L319.94,53.74 L322.21,53.10 L324.49,52.46 L326.79,51.83 L329.10,51.20 L331.43,50.57 L333.78,49.94 L336.15,49.32 L338.53,48.69 L340.92,48.07 L343.34,47.46 L345.77,46.84 L348.22,46.23 L350.69,45.62 L353.17,45.02 L355.67,44.42 L358.19,43.82 L360.73,43.22 L363.29,42.63 L365.86,42.04 L368.45,41.46 L371.06,40.88 L373.69,40.30 L376.34,39.72 L379.00,39.15 L381.69,38.59 L384.39,38.03 L387.11,37.47 L389.86,36.91 L392.62,36.37 L395.40,35.82 L398.20,35.28" fill="none" stroke="#464646" stroke-width="1.4" stroke-linejoin="round"/>
<path d="M37.15,244.00 L37.50,243.00 L39.90,235.60 L42.90,227.80 L45.80,220.20 L47.80,214.58 L48.14,213.95 L48.48,213.32 L48.83,212.69 L49.18,212.06 L49.52,211.43 L49.88,210.80 L50.23,210.17 L50.59,209.53 L50.95,208.90 L51.31,208.27 L51.68,207.64 L52.04,207.00 L52.42,206.37 L52.79,205.74 L53.16,205.10 L53.54,204.47 L53.92,203.83 L54.31,203.20 L54.69,202.56 L55.08,201.93 L55.47,201.29 L55.87,200.66 L56.27,200.02 L56.67,199.38 L57.07,198.75 L57.48,198.11 L57.88,197.47 L58.30,196.83 L58.71,196.20 L59.13,195.56 L59.55,194.92 L59.97,194.28 L60.40,193.64 L60.83,193.01 L61.26,192.37 L61.70,191.73 L62.14,191.09 L62.58,190.45 L63.03,189.81 L63.47,189.17 L63.93,188.53 L64.38,187.89 L64.84,187.25 L65.30,186.61 L65.76,185.97 L66.23,185.33 L66.70,184.69 L67.18,184.05 L67.66,183.41 L68.14,182.77 L68.62,182.13 L69.11,181.49 L69.60,180.85 L70.10,180.21 L70.60,179.57 L71.10,178.93 L71.60,178.29 L72.11,177.65 L72.63,177.01 L73.14,176.37 L73.66,175.73 L74.19,175.09 L74.72,174.45 L75.25,173.81 L75.78,173.17 L76.32,172.53 L76.87,171.89 L77.41,171.25 L77.96,170.61 L78.52,169.97 L79.08,169.33 L79.64,168.70 L80.21,168.06 L80.78,167.42 L81.35,166.78 L81.93,166.14 L82.51,165.50 L83.10,164.87 L83.69,164.23 L84.29,163.59 L84.89,162.96 L85.49,162.32 L86.10,161.68 L86.71,161.05 L87.33,160.41 L87.95,159.77 L88.58,159.14 L89.21,158.50 L89.84,157.87 L90.48,157.23 L91.12,156.60 L91.77,155.97 L92.43,155.33 L93.08,154.70 L93.75,154.07 L94.41,153.43 L95.08,152.80 L95.76,152.17 L96.44,151.54 L97.13,150.91 L97.82,150.28 L98.52,149.65 L99.22,149.02 L99.92,148.39 L100.63,147.76 L101.35,147.13 L102.07,146.50 L102.80,145.87 L103.53,145.25 L104.26,144.62 L105.01,143.99 L105.75,143.37 L106.51,142.74 L107.26,142.12 L108.03,141.50 L108.80,140.87 L109.57,140.25 L110.35,139.63 L111.13,139.00 L111.93,138.38 L112.72,137.76 L113.52,137.14 L114.33,136.52 L115.15,135.90 L115.96,135.28 L116.79,134.67 L117.62,134.05 L118.46,133.43 L119.30,132.82 L120.15,132.20 L121.00,131.59 L121.87,130.97 L122.73,130.36 L123.61,129.75 L124.48,129.13 L125.37,128.52 L126.26,127.91 L127.16,127.30 L128.07,126.69 L128.98,126.09 L129.89,125.48 L130.82,124.87 L131.75,124.26 L132.69,123.66 L133.63,123.05 L134.58,122.45 L135.54,121.85 L136.50,121.25 L137.48,120.64 L138.45,120.04 L139.44,119.44 L140.43,118.85 L141.43,118.25 L142.44,117.65 L143.45,117.05 L144.47,116.46 L145.50,115.87 L146.53,115.27 L147.58,114.68 L148.63,114.09 L149.68,113.50 L150.75,112.91 L151.82,112.32 L152.90,111.73 L153.99,111.14 L155.09,110.56 L156.19,109.97 L157.30,109.39 L158.42,108.81 L159.55,108.23 L160.68,107.65 L161.83,107.07 L162.98,106.49 L164.14,105.91 L165.30,105.33 L166.48,104.76 L167.66,104.19 L168.86,103.61 L170.06,103.04 L171.27,102.47 L172.49,101.90 L173.72,101.33 L174.95,100.77 L176.20,100.20 L177.45,99.63 L178.71,99.07 L179.98,98.51 L181.26,97.95 L182.55,97.39 L183.85,96.83 L185.16,96.27 L186.48,95.71 L187.81,95.16 L189.14,94.60 L190.49,94.05 L191.84,93.49 L193.21,92.94 L194.58,92.39 L195.97,91.84 L197.36,91.29 L198.77,90.73 L200.18,90.18 L201.60,89.63 L203.04,89.08 L204.48,88.53 L205.94,87.98 L207.40,87.43 L208.88,86.88 L210.37,86.33 L211.86,85.78 L213.37,85.23 L214.89,84.68 L216.42,84.13 L217.96,83.58 L219.51,83.03 L221.07,82.48 L222.64,81.93 L224.23,81.37 L225.82,80.82 L227.43,80.26 L229.05,79.71 L230.68,79.15 L232.32,78.60 L233.97,78.04 L235.64,77.48 L237.31,76.92 L239.00,76.36 L240.70,75.80 L242.41,75.24 L244.14,74.68 L245.88,74.12 L247.63,73.56 L249.39,72.99 L251.16,72.43 L252.95,71.86 L254.75,71.30 L256.56,70.73 L258.39,70.16 L260.23,69.60 L262.08,69.03 L263.94,68.46 L265.82,67.89 L267.71,67.32 L269.62,66.75 L271.53,66.17 L273.47,65.60 L275.41,65.03 L277.37,64.45 L279.35,63.88 L281.33,63.30 L283.34,62.72 L285.35,62.15 L287.38,61.57 L289.43,60.99 L291.49,60.41 L293.56,59.83 L295.65,59.25 L297.75,58.66 L299.87,58.08 L302.00,57.50 L304.15,56.91 L306.32,56.33 L308.50,55.74 L310.69,55.15 L312.90,54.56 L315.13,53.98 L317.37,53.39 L319.63,52.80 L321.90,52.20 L324.19,51.61 L326.50,51.02 L328.82,50.43 L331.16,49.84 L333.52,49.24 L335.89,48.65 L338.28,48.06 L340.69,47.46 L343.11,46.87 L345.56,46.27 L348.01,45.68 L350.49,45.09 L352.98,44.50 L355.50,43.90 L358.03,43.31 L360.57,42.72 L363.14,42.13 L365.72,41.54 L368.32,40.95 L370.94,40.36 L373.58,39.77 L376.24,39.18 L378.92,38.60 L381.62,38.01 L384.33,37.43 L387.07,36.84 L389.82,36.26 L392.59,35.68 L395.39,35.10 L398.20,34.53" fill="none" stroke="#0000ff" stroke-width="1.85" stroke-linejoin="round"/>
<path d="M36.11,243.65 L36.47,242.61 L36.81,241.57 L37.15,240.52 L37.49,239.47 L37.83,238.42 L38.17,237.37 L38.51,236.33 L38.85,235.28 L39.24,234.25 L39.64,233.22 L40.03,232.19 L40.43,231.16 L40.83,230.13 L41.22,229.10 L41.62,228.07 L42.01,227.05 L42.40,226.02 L42.79,225.00 L43.18,223.97 L43.57,222.95 L43.97,221.92 L44.36,220.89 L44.75,219.86 L45.13,218.81 L45.50,217.77 L45.87,216.72 L46.24,215.67 L46.62,214.63 L47.07,213.61 L47.60,212.64 L48.14,211.66 L48.68,210.68 L49.23,209.71 L49.78,208.74 L50.34,207.78 L50.89,206.82 L51.45,205.87 L52.02,204.92 L52.59,203.98 L53.16,203.03 L53.73,202.09 L54.31,201.15 L54.90,200.22 L55.49,199.28 L56.08,198.35 L56.68,197.42 L57.28,196.50 L57.88,195.58 L58.49,194.66 L59.10,193.74 L59.72,192.82 L60.34,191.91 L60.97,191.00 L61.60,190.10 L62.23,189.19 L62.87,188.29 L63.51,187.40 L64.16,186.50 L64.81,185.61 L65.46,184.72 L66.12,183.84 L66.79,182.95 L67.45,182.08 L68.12,181.20 L68.80,180.33 L69.48,179.46 L70.16,178.59 L70.85,177.73 L71.54,176.87 L72.24,176.01 L72.94,175.16 L73.64,174.31 L74.35,173.46 L75.06,172.62 L75.77,171.78 L76.50,170.95 L77.23,170.12 L77.97,169.30 L78.71,168.48 L79.45,167.67 L80.20,166.86 L80.95,166.06 L81.71,165.25 L82.47,164.45 L83.23,163.66 L84.00,162.87 L84.77,162.08 L85.55,161.30 L86.33,160.52 L87.11,159.74 L87.89,158.97 L88.68,158.20 L89.48,157.44 L90.27,156.67 L91.07,155.92 L91.88,155.16 L92.68,154.41 L93.49,153.67 L94.31,152.93 L95.13,152.19 L95.95,151.45 L96.77,150.72 L97.60,150.00 L98.43,149.28 L99.26,148.56 L100.10,147.84 L100.93,147.12 L101.77,146.41 L102.61,145.70 L103.45,144.99 L104.30,144.29 L105.15,143.59 L106.00,142.90 L106.85,142.20 L107.71,141.52 L108.57,140.83 L109.44,140.15 L110.31,139.48 L111.18,138.81 L112.05,138.14 L112.92,137.47 L113.80,136.81 L114.68,136.15 L115.57,135.50 L116.45,134.85 L117.34,134.21 L118.24,133.56 L119.13,132.92 L120.03,132.29 L120.93,131.66 L121.83,131.04 L122.74,130.42 L123.65,129.80 L124.56,129.19 L125.48,128.58 L126.40,127.98 L127.31,127.37 L128.24,126.78 L129.16,126.18 L130.09,125.59 L131.01,125.00 L131.94,124.42 L132.88,123.84 L133.81,123.26 L134.75,122.69 L135.69,122.12 L136.63,121.56 L137.57,120.99 L138.52,120.44 L139.46,119.88 L140.41,119.33 L141.36,118.78 L142.32,118.24 L143.27,117.70 L144.23,117.16 L145.18,116.62 L146.14,116.09 L147.11,115.56 L148.07,115.04 L149.04,114.52 L150.00,114.00 L150.97,113.49 L151.94,112.97 L152.91,112.47 L153.89,111.96 L154.86,111.46 L155.84,110.96 L156.82,110.47 L157.80,109.98 L158.78,109.49 L159.77,109.00 L160.76,108.53 L161.75,108.08 L162.76,107.63 L163.76,107.18 L164.76,106.74 L165.77,106.29 L166.77,105.86 L167.78,105.42 L168.79,104.99 L169.80,104.56 L170.81,104.14 L171.82,103.72 L172.83,103.30 L173.84,102.88 L174.86,102.47 L175.88,102.06 L176.89,101.65 L177.91,101.25 L178.93,100.85 L179.95,100.45 L180.97,100.05 L181.98,99.63 L182.99,99.21 L184.00,98.79 L185.02,98.38 L186.03,97.97 L187.05,97.56 L188.07,97.16 L189.08,96.76 L190.10,96.36 L191.12,95.96 L192.14,95.56 L193.16,95.17 L194.19,94.78 L195.21,94.39 L196.23,94.00 L197.26,93.62 L198.28,93.23 L199.31,92.85 L200.34,92.47 L201.37,92.10 L202.39,91.72 L203.42,91.35 L204.45,90.98 L205.48,90.61 L206.52,90.24 L207.55,89.87 L208.58,89.51 L209.61,89.15 L210.65,88.78 L211.68,88.41 L212.71,88.03 L213.73,87.66 L214.76,87.28 L215.79,86.91 L216.82,86.54 L217.86,86.17 L218.89,85.80 L219.92,85.43 L220.95,85.07 L221.99,84.70 L223.02,84.34 L224.05,83.98 L225.09,83.61 L226.12,83.25 L227.16,82.90 L228.20,82.54 L229.23,82.18 L230.27,81.83 L231.31,81.47 L232.35,81.12 L233.38,80.77 L234.42,80.42 L235.46,80.07 L236.50,79.72 L237.54,79.38 L238.58,79.03 L239.62,78.69 L240.66,78.34 L241.71,78.01 L242.75,77.68 L243.80,77.35 L244.85,77.02 L245.89,76.70 L246.94,76.37 L247.99,76.05 L249.03,75.72 L250.08,75.40 L251.13,75.08 L252.18,74.76 L253.23,74.44 L254.28,74.12 L255.33,73.80 L256.38,73.49 L257.43,73.17 L258.48,72.86 L259.53,72.54 L260.58,72.23 L261.63,71.92 L262.68,71.61 L263.73,71.30 L264.79,70.99 L265.84,70.68 L266.89,70.38 L267.94,70.07 L269.00,69.77 L270.05,69.46 L271.10,69.16 L272.16,68.86 L273.21,68.56 L274.27,68.26 L275.32,67.96 L276.38,67.66 L277.43,67.36 L278.49,67.07 L279.55,66.77 L280.60,66.48 L281.66,66.18 L282.72,65.89 L283.77,65.60 L284.83,65.31 L285.89,65.02 L286.95,64.73 L288.00,64.44 L289.06,64.15 L290.12,63.86 L291.18,63.58 L292.24,63.29 L293.30,63.01 L294.36,62.72 L295.42,62.44 L296.48,62.16 L297.54,61.88 L298.60,61.60 L299.66,61.32 L300.72,61.04 L301.78,60.76 L302.84,60.48 L303.90,60.20 L304.96,59.92 L306.02,59.64 L307.08,59.36 L308.14,59.08 L309.20,58.80 L310.26,58.52 L311.32,58.24 L312.38,57.97 L313.44,57.69 L314.51,57.42 L315.57,57.14 L316.63,56.87 L317.69,56.59 L318.75,56.32 L319.82,56.05 L320.88,55.78 L321.94,55.51 L323.01,55.24 L324.07,54.97 L325.13,54.70 L326.20,54.44 L327.26,54.17 L328.32,53.91 L329.39,53.64 L330.45,53.38 L331.52,53.11 L332.58,52.85 L333.65,52.59 L334.71,52.33 L335.78,52.07 L336.84,51.81 L337.91,51.55 L338.97,51.28 L340.03,51.01 L341.10,50.74 L342.16,50.47 L343.22,50.20 L344.28,49.93 L345.35,49.67 L346.41,49.40 L347.48,49.13 L348.54,48.87 L349.61,48.61 L350.67,48.34 L351.73,48.08 L352.80,47.82 L353.86,47.56 L354.93,47.30 L356.00,47.04 L357.06,46.78 L358.13,46.53 L359.19,46.27 L360.26,46.01 L361.33,45.76 L362.39,45.50 L363.46,45.25 L364.53,45.00 L365.59,44.75 L366.66,44.49 L367.73,44.24 L368.79,43.98 L369.86,43.73 L370.93,43.48 L372.00,43.23 L373.06,42.97 L374.13,42.72 L375.20,42.48 L376.27,42.23 L377.34,41.98 L378.40,41.73 L379.47,41.49 L380.54,41.24 L381.61,41.00 L382.68,40.75 L383.75,40.51 L384.82,40.27 L385.89,40.03 L386.96,39.78 L388.03,39.54 L389.10,39.31 L390.17,39.07 L391.24,38.83 L392.32,38.60 L393.39,38.38 L394.46,38.15 L395.54,37.93 L396.61,37.71 L397.69,37.49 L398.76,37.27" fill="none" stroke="#ff00ff" stroke-width="1.7" stroke-dasharray="7.5 10.80" stroke-dashoffset="12.93"/>
</g>
<g clip-path="url(#cl)">
<path d="M37.0,292.50 L398.15,292.50" stroke="#404040" stroke-width="1.5"/>
<path d="M36.90,254.80 L48.40,262.81 L48.74,262.93 L49.09,263.05 L49.43,263.16 L49.78,263.28 L50.14,263.40 L50.49,263.51 L50.85,263.63 L51.21,263.75 L51.57,263.86 L51.93,263.98 L52.30,264.09 L52.67,264.21 L53.04,264.33 L53.42,264.44 L53.80,264.56 L54.18,264.67 L54.56,264.79 L54.95,264.90 L55.34,265.02 L55.73,265.13 L56.12,265.24 L56.52,265.36 L56.92,265.47 L57.32,265.59 L57.73,265.70 L58.13,265.81 L58.55,265.93 L58.96,266.04 L59.38,266.15 L59.80,266.27 L60.22,266.38 L60.65,266.49 L61.07,266.60 L61.51,266.72 L61.94,266.83 L62.38,266.94 L62.82,267.05 L63.27,267.16 L63.71,267.27 L64.16,267.39 L64.62,267.50 L65.07,267.61 L65.53,267.72 L66.00,267.83 L66.46,267.94 L66.94,268.05 L67.41,268.16 L67.89,268.27 L68.37,268.38 L68.85,268.49 L69.34,268.60 L69.83,268.71 L70.32,268.82 L70.82,268.93 L71.32,269.04 L71.82,269.15 L72.33,269.26 L72.84,269.37 L73.36,269.48 L73.88,269.59 L74.40,269.70 L74.93,269.81 L75.46,269.92 L75.99,270.03 L76.53,270.13 L77.07,270.24 L77.61,270.35 L78.16,270.46 L78.72,270.57 L79.27,270.68 L79.83,270.78 L80.40,270.89 L80.97,271.00 L81.54,271.11 L82.12,271.22 L82.70,271.32 L83.28,271.43 L83.87,271.54 L84.46,271.65 L85.06,271.75 L85.66,271.86 L86.27,271.97 L86.88,272.08 L87.49,272.18 L88.11,272.29 L88.74,272.40 L89.36,272.50 L89.99,272.61 L90.63,272.72 L91.27,272.82 L91.92,272.93 L92.57,273.04 L93.22,273.14 L93.88,273.25 L94.55,273.36 L95.22,273.46 L95.89,273.57 L96.57,273.68 L97.25,273.78 L97.94,273.89 L98.63,274.00 L99.33,274.10 L100.03,274.21 L100.74,274.31 L101.45,274.42 L102.17,274.53 L102.89,274.63 L103.62,274.74 L104.35,274.85 L105.09,274.95 L105.83,275.06 L106.58,275.16 L107.34,275.27 L108.10,275.37 L108.86,275.48 L109.63,275.59 L110.41,275.69 L111.19,275.80 L111.97,275.90 L112.76,276.01 L113.56,276.11 L114.37,276.22 L115.17,276.33 L115.99,276.43 L116.81,276.54 L117.64,276.64 L118.47,276.75 L119.31,276.85 L120.15,276.96 L121.00,277.06 L121.86,277.17 L122.72,277.27 L123.59,277.38 L124.46,277.49 L125.34,277.59 L126.23,277.70 L127.12,277.80 L128.02,277.91 L128.92,278.01 L129.84,278.12 L130.75,278.22 L131.68,278.33 L132.61,278.43 L133.55,278.53 L134.49,278.64 L135.44,278.74 L136.40,278.85 L137.37,278.95 L138.34,279.06 L139.32,279.16 L140.30,279.27 L141.29,279.37 L142.29,279.48 L143.30,279.58 L144.31,279.68 L145.33,279.79 L146.36,279.89 L147.40,280.00 L148.44,280.10 L149.49,280.21 L150.55,280.31 L151.61,280.41 L152.69,280.52 L153.77,280.62 L154.85,280.73 L155.95,280.83 L157.05,280.93 L158.16,281.04 L159.28,281.14 L160.41,281.24 L161.54,281.35 L162.68,281.45 L163.84,281.55 L164.99,281.66 L166.16,281.76 L167.34,281.86 L168.52,281.97 L169.71,282.07 L170.91,282.17 L172.12,282.28 L173.34,282.38 L174.57,282.48 L175.80,282.58 L177.04,282.69 L178.30,282.79 L179.56,282.89 L180.83,282.99 L182.11,283.10 L183.39,283.20 L184.69,283.30 L186.00,283.40 L187.31,283.51 L188.64,283.61 L189.97,283.71 L191.32,283.81 L192.67,283.91 L194.03,284.02 L195.40,284.12 L196.79,284.22 L198.18,284.32 L199.58,284.42 L200.99,284.52 L202.41,284.62 L203.85,284.73 L205.29,284.83 L206.74,284.93 L208.20,285.03 L209.67,285.13 L211.16,285.23 L212.65,285.33 L214.16,285.43 L215.67,285.53 L217.20,285.63 L218.73,285.73 L220.28,285.83 L221.84,285.93 L223.41,286.03 L224.99,286.13 L226.58,286.23 L228.18,286.33 L229.79,286.43 L231.42,286.53 L233.06,286.63 L234.70,286.73 L236.36,286.83 L238.04,286.93 L239.72,287.03 L241.42,287.13 L243.12,287.23 L244.84,287.33 L246.58,287.42 L248.32,287.52 L250.08,287.62 L251.84,287.72 L253.63,287.82 L255.42,287.92 L257.23,288.01 L259.05,288.11 L260.88,288.21 L262.72,288.31 L264.58,288.41 L266.45,288.50 L268.34,288.60 L270.24,288.70 L272.15,288.80 L274.07,288.89 L276.01,288.99 L277.96,289.09 L279.93,289.18 L281.91,289.28 L283.90,289.38 L285.91,289.47 L287.93,289.57 L289.97,289.67 L292.02,289.76 L294.09,289.86 L296.17,289.95 L298.26,290.05 L300.37,290.14 L302.50,290.24 L304.64,290.33 L306.79,290.43 L308.96,290.52 L311.15,290.62 L313.35,290.71 L315.56,290.81 L317.80,290.90 L320.04,291.00 L322.31,291.09 L324.59,291.19 L326.88,291.28 L329.19,291.37 L331.52,291.47 L333.87,291.56 L336.23,291.65 L338.61,291.75 L341.00,291.84 L343.41,291.93 L345.84,292.03 L348.29,292.12 L350.75,292.21 L353.23,292.31 L355.73,292.40 L358.25,292.49 L360.78,292.58 L363.34,292.67 L365.91,292.77 L368.49,292.86 L371.10,292.95 L373.72,293.04 L376.37,293.13 L379.03,293.22 L381.71,293.31 L384.41,293.40 L387.13,293.49 L389.87,293.58 L392.63,293.67 L395.40,293.76 L398.20,293.85" fill="none" stroke="#0000ff" stroke-width="1.7" stroke-linejoin="round"/>
</g>
<path d="M46.50,4.05 L46.50,7.75 M46.50,246.30 L46.50,253.70 M46.50,311.05 L46.50,307.35 M58.97,4.05 L58.97,7.75 M58.97,246.30 L58.97,253.70 M58.97,311.05 L58.97,307.35 M68.65,4.05 L68.65,7.75 M68.65,246.30 L68.65,253.70 M68.65,311.05 L68.65,307.35 M76.55,4.05 L76.55,7.75 M76.55,246.30 L76.55,253.70 M76.55,311.05 L76.55,307.35 M83.24,4.05 L83.24,7.75 M83.24,246.30 L83.24,253.70 M83.24,311.05 L83.24,307.35 M89.03,4.05 L89.03,7.75 M89.03,246.30 L89.03,253.70 M89.03,311.05 L89.03,307.35 M94.13,4.05 L94.13,7.75 M94.13,246.30 L94.13,253.70 M94.13,311.05 L94.13,307.35 M98.70,4.05 L98.70,10.95 M98.70,243.10 L98.70,256.90 M98.70,311.05 L98.70,304.15 M128.75,4.05 L128.75,7.75 M128.75,246.30 L128.75,253.70 M128.75,311.05 L128.75,307.35 M146.33,4.05 L146.33,7.75 M146.33,246.30 L146.33,253.70 M146.33,311.05 L146.33,307.35 M158.80,4.05 L158.80,7.75 M158.80,246.30 L158.80,253.70 M158.80,311.05 L158.80,307.35 M168.48,4.05 L168.48,7.75 M168.48,246.30 L168.48,253.70 M168.48,311.05 L168.48,307.35 M176.38,4.05 L176.38,7.75 M176.38,246.30 L176.38,253.70 M176.38,311.05 L176.38,307.35 M183.07,4.05 L183.07,7.75 M183.07,246.30 L183.07,253.70 M183.07,311.05 L183.07,307.35 M188.86,4.05 L188.86,7.75 M188.86,246.30 L188.86,253.70 M188.86,311.05 L188.86,307.35 M193.96,4.05 L193.96,7.75 M193.96,246.30 L193.96,253.70 M193.96,311.05 L193.96,307.35 M198.53,4.05 L198.53,10.95 M198.53,243.10 L198.53,256.90 M198.53,311.05 L198.53,304.15 M228.58,4.05 L228.58,7.75 M228.58,246.30 L228.58,253.70 M228.58,311.05 L228.58,307.35 M246.16,4.05 L246.16,7.75 M246.16,246.30 L246.16,253.70 M246.16,311.05 L246.16,307.35 M258.63,4.05 L258.63,7.75 M258.63,246.30 L258.63,253.70 M258.63,311.05 L258.63,307.35 M268.31,4.05 L268.31,7.75 M268.31,246.30 L268.31,253.70 M268.31,311.05 L268.31,307.35 M276.21,4.05 L276.21,7.75 M276.21,246.30 L276.21,253.70 M276.21,311.05 L276.21,307.35 M282.90,4.05 L282.90,7.75 M282.90,246.30 L282.90,253.70 M282.90,311.05 L282.90,307.35 M288.69,4.05 L288.69,7.75 M288.69,246.30 L288.69,253.70 M288.69,311.05 L288.69,307.35 M293.79,4.05 L293.79,7.75 M293.79,246.30 L293.79,253.70 M293.79,311.05 L293.79,307.35 M298.36,4.05 L298.36,10.95 M298.36,243.10 L298.36,256.90 M298.36,311.05 L298.36,304.15 M328.41,4.05 L328.41,7.75 M328.41,246.30 L328.41,253.70 M328.41,311.05 L328.41,307.35 M345.99,4.05 L345.99,7.75 M345.99,246.30 L345.99,253.70 M345.99,311.05 L345.99,307.35 M358.46,4.05 L358.46,7.75 M358.46,246.30 L358.46,253.70 M358.46,311.05 L358.46,307.35 M368.14,4.05 L368.14,7.75 M368.14,246.30 L368.14,253.70 M368.14,311.05 L368.14,307.35 M376.04,4.05 L376.04,7.75 M376.04,246.30 L376.04,253.70 M376.04,311.05 L376.04,307.35 M382.73,4.05 L382.73,7.75 M382.73,246.30 L382.73,253.70 M382.73,311.05 L382.73,307.35 M388.52,4.05 L388.52,7.75 M388.52,246.30 L388.52,253.70 M388.52,311.05 L388.52,307.35 M393.62,4.05 L393.62,7.75 M393.62,246.30 L393.62,253.70 M393.62,311.05 L393.62,307.35 M398.19,4.05 L398.19,10.95 M398.19,243.10 L398.19,256.90 M398.19,311.05 L398.19,304.15 M37.00,247.70 L43.90,247.70 M398.15,247.70 L391.25,247.70 M37.00,237.34 L40.70,237.34 M398.15,237.34 L394.45,237.34 M37.00,231.29 L40.70,231.29 M398.15,231.29 L394.45,231.29 M37.00,226.99 L40.70,226.99 M398.15,226.99 L394.45,226.99 M37.00,223.66 L40.70,223.66 M398.15,223.66 L394.45,223.66 M37.00,220.93 L40.70,220.93 M398.15,220.93 L394.45,220.93 M37.00,218.63 L40.70,218.63 M398.15,218.63 L394.45,218.63 M37.00,216.63 L40.70,216.63 M398.15,216.63 L394.45,216.63 M37.00,214.87 L40.70,214.87 M398.15,214.87 L394.45,214.87 M37.00,213.30 L43.90,213.30 M398.15,213.30 L391.25,213.30 M37.00,202.94 L40.70,202.94 M398.15,202.94 L394.45,202.94 M37.00,196.89 L40.70,196.89 M398.15,196.89 L394.45,196.89 M37.00,192.59 L40.70,192.59 M398.15,192.59 L394.45,192.59 M37.00,189.26 L40.70,189.26 M398.15,189.26 L394.45,189.26 M37.00,186.53 L40.70,186.53 M398.15,186.53 L394.45,186.53 M37.00,184.23 L40.70,184.23 M398.15,184.23 L394.45,184.23 M37.00,182.23 L40.70,182.23 M398.15,182.23 L394.45,182.23 M37.00,180.47 L40.70,180.47 M398.15,180.47 L394.45,180.47 M37.00,178.90 L43.90,178.90 M398.15,178.90 L391.25,178.90 M37.00,168.54 L40.70,168.54 M398.15,168.54 L394.45,168.54 M37.00,162.49 L40.70,162.49 M398.15,162.49 L394.45,162.49 M37.00,158.19 L40.70,158.19 M398.15,158.19 L394.45,158.19 M37.00,154.86 L40.70,154.86 M398.15,154.86 L394.45,154.86 M37.00,152.13 L40.70,152.13 M398.15,152.13 L394.45,152.13 M37.00,149.83 L40.70,149.83 M398.15,149.83 L394.45,149.83 M37.00,147.83 L40.70,147.83 M398.15,147.83 L394.45,147.83 M37.00,146.07 L40.70,146.07 M398.15,146.07 L394.45,146.07 M37.00,144.50 L43.90,144.50 M398.15,144.50 L391.25,144.50 M37.00,134.14 L40.70,134.14 M398.15,134.14 L394.45,134.14 M37.00,128.09 L40.70,128.09 M398.15,128.09 L394.45,128.09 M37.00,123.79 L40.70,123.79 M398.15,123.79 L394.45,123.79 M37.00,120.46 L40.70,120.46 M398.15,120.46 L394.45,120.46 M37.00,117.73 L40.70,117.73 M398.15,117.73 L394.45,117.73 M37.00,115.43 L40.70,115.43 M398.15,115.43 L394.45,115.43 M37.00,113.43 L40.70,113.43 M398.15,113.43 L394.45,113.43 M37.00,111.67 L40.70,111.67 M398.15,111.67 L394.45,111.67 M37.00,110.10 L43.90,110.10 M398.15,110.10 L391.25,110.10 M37.00,99.74 L40.70,99.74 M398.15,99.74 L394.45,99.74 M37.00,93.69 L40.70,93.69 M398.15,93.69 L394.45,93.69 M37.00,89.39 L40.70,89.39 M398.15,89.39 L394.45,89.39 M37.00,86.06 L40.70,86.06 M398.15,86.06 L394.45,86.06 M37.00,83.33 L40.70,83.33 M398.15,83.33 L394.45,83.33 M37.00,81.03 L40.70,81.03 M398.15,81.03 L394.45,81.03 M37.00,79.03 L40.70,79.03 M398.15,79.03 L394.45,79.03 M37.00,77.27 L40.70,77.27 M398.15,77.27 L394.45,77.27 M37.00,75.70 L43.90,75.70 M398.15,75.70 L391.25,75.70 M37.00,65.34 L40.70,65.34 M398.15,65.34 L394.45,65.34 M37.00,59.29 L40.70,59.29 M398.15,59.29 L394.45,59.29 M37.00,54.99 L40.70,54.99 M398.15,54.99 L394.45,54.99 M37.00,51.66 L40.70,51.66 M398.15,51.66 L394.45,51.66 M37.00,48.93 L40.70,48.93 M398.15,48.93 L394.45,48.93 M37.00,46.63 L40.70,46.63 M398.15,46.63 L394.45,46.63 M37.00,44.63 L40.70,44.63 M398.15,44.63 L394.45,44.63 M37.00,42.87 L40.70,42.87 M398.15,42.87 L394.45,42.87 M37.00,41.30 L43.90,41.30 M398.15,41.30 L391.25,41.30 M37.00,30.94 L40.70,30.94 M398.15,30.94 L394.45,30.94 M37.00,24.89 L40.70,24.89 M398.15,24.89 L394.45,24.89 M37.00,20.59 L40.70,20.59 M398.15,20.59 L394.45,20.59 M37.00,17.26 L40.70,17.26 M398.15,17.26 L394.45,17.26 M37.00,14.53 L40.70,14.53 M398.15,14.53 L394.45,14.53 M37.00,12.23 L40.70,12.23 M398.15,12.23 L394.45,12.23 M37.00,10.23 L40.70,10.23 M398.15,10.23 L394.45,10.23 M37.00,8.47 L40.70,8.47 M398.15,8.47 L394.45,8.47 M37.00,6.90 L43.90,6.90 M398.15,6.90 L391.25,6.90 M37.00,301.78 L43.90,301.78 M398.15,301.78 L391.25,301.78 M37.00,292.50 L43.90,292.50 M398.15,292.50 L391.25,292.50 M37.00,283.23 L43.90,283.23 M398.15,283.23 L391.25,283.23 M37.00,273.95 L43.90,273.95 M398.15,273.95 L391.25,273.95 M37.00,264.68 L43.90,264.68 M398.15,264.68 L391.25,264.68 M37.00,255.40 L43.90,255.40 M398.15,255.40 L391.25,255.40" stroke="#2a2a2a" stroke-width="0.85" fill="none"/>
<rect x="37.0" y="4.05" width="361.15" height="307.0" fill="none" stroke="#303030" stroke-width="1.3"/>
<path d="M37.0,250.0 L398.15,250.0" stroke="#303030" stroke-width="1.3"/>
<text x="15.27" y="250.70" textLength="11.38" lengthAdjust="spacingAndGlyphs" font-family="Liberation Sans, sans-serif" font-size="9.3" fill="#111">10</text>
<text x="26.04" y="246.80" textLength="6.36" lengthAdjust="spacingAndGlyphs" font-family="Liberation Sans, sans-serif" font-size="6.5" fill="#111">-2</text>
<text x="15.27" y="216.30" textLength="11.38" lengthAdjust="spacingAndGlyphs" font-family="Liberation Sans, sans-serif" font-size="9.3" fill="#111">10</text>
<text x="26.04" y="212.40" textLength="6.36" lengthAdjust="spacingAndGlyphs" font-family="Liberation Sans, sans-serif" font-size="6.5" fill="#111">-1</text>
<text x="17.65" y="181.90" textLength="11.38" lengthAdjust="spacingAndGlyphs" font-family="Liberation Sans, sans-serif" font-size="9.3" fill="#111">10</text>
<text x="28.42" y="178.00" textLength="3.98" lengthAdjust="spacingAndGlyphs" font-family="Liberation Sans, sans-serif" font-size="6.5" fill="#111">0</text>
<text x="17.65" y="147.50" textLength="11.38" lengthAdjust="spacingAndGlyphs" font-family="Liberation Sans, sans-serif" font-size="9.3" fill="#111">10</text>
<text x="28.42" y="143.60" textLength="3.98" lengthAdjust="spacingAndGlyphs" font-family="Liberation Sans, sans-serif" font-size="6.5" fill="#111">1</text>
<text x="17.65" y="113.10" textLength="11.38" lengthAdjust="spacingAndGlyphs" font-family="Liberation Sans, sans-serif" font-size="9.3" fill="#111">10</text>
<text x="28.42" y="109.20" textLength="3.98" lengthAdjust="spacingAndGlyphs" font-family="Liberation Sans, sans-serif" font-size="6.5" fill="#111">2</text>
<text x="17.65" y="78.70" textLength="11.38" lengthAdjust="spacingAndGlyphs" font-family="Liberation Sans, sans-serif" font-size="9.3" fill="#111">10</text>
<text x="28.42" y="74.80" textLength="3.98" lengthAdjust="spacingAndGlyphs" font-family="Liberation Sans, sans-serif" font-size="6.5" fill="#111">3</text>
<text x="17.65" y="44.30" textLength="11.38" lengthAdjust="spacingAndGlyphs" font-family="Liberation Sans, sans-serif" font-size="9.3" fill="#111">10</text>
<text x="28.42" y="40.40" textLength="3.98" lengthAdjust="spacingAndGlyphs" font-family="Liberation Sans, sans-serif" font-size="6.5" fill="#111">4</text>
<text x="17.65" y="9.90" textLength="11.38" lengthAdjust="spacingAndGlyphs" font-family="Liberation Sans, sans-serif" font-size="9.3" fill="#111">10</text>
<text x="28.42" y="6.00" textLength="3.98" lengthAdjust="spacingAndGlyphs" font-family="Liberation Sans, sans-serif" font-size="6.5" fill="#111">5</text>
<text x="18.18" y="314.35" textLength="14.22" lengthAdjust="spacingAndGlyphs" font-family="Liberation Sans, sans-serif" font-size="9.3" fill="#111">0.0</text>
<text x="18.18" y="305.08" textLength="14.22" lengthAdjust="spacingAndGlyphs" font-family="Liberation Sans, sans-serif" font-size="9.3" fill="#111">0.5</text>
<text x="18.18" y="295.80" textLength="14.22" lengthAdjust="spacingAndGlyphs" font-family="Liberation Sans, sans-serif" font-size="9.3" fill="#111">1.0</text>
<text x="18.18" y="286.53" textLength="14.22" lengthAdjust="spacingAndGlyphs" font-family="Liberation Sans, sans-serif" font-size="9.3" fill="#111">1.5</text>
<text x="18.18" y="277.25" textLength="14.22" lengthAdjust="spacingAndGlyphs" font-family="Liberation Sans, sans-serif" font-size="9.3" fill="#111">2.0</text>
<text x="18.18" y="267.98" textLength="14.22" lengthAdjust="spacingAndGlyphs" font-family="Liberation Sans, sans-serif" font-size="9.3" fill="#111">2.5</text>
<text x="18.18" y="258.70" textLength="14.22" lengthAdjust="spacingAndGlyphs" font-family="Liberation Sans, sans-serif" font-size="9.3" fill="#111">3.0</text>
<text x="91.15" y="323.00" textLength="11.38" lengthAdjust="spacingAndGlyphs" font-family="Liberation Sans, sans-serif" font-size="9.3" fill="#111">10</text>
<text x="101.92" y="319.10" textLength="3.98" lengthAdjust="spacingAndGlyphs" font-family="Liberation Sans, sans-serif" font-size="6.5" fill="#111">2</text>
<text x="190.98" y="323.00" textLength="11.38" lengthAdjust="spacingAndGlyphs" font-family="Liberation Sans, sans-serif" font-size="9.3" fill="#111">10</text>
<text x="201.75" y="319.10" textLength="3.98" lengthAdjust="spacingAndGlyphs" font-family="Liberation Sans, sans-serif" font-size="6.5" fill="#111">3</text>
<text x="290.81" y="323.00" textLength="11.38" lengthAdjust="spacingAndGlyphs" font-family="Liberation Sans, sans-serif" font-size="9.3" fill="#111">10</text>
<text x="301.58" y="319.10" textLength="3.98" lengthAdjust="spacingAndGlyphs" font-family="Liberation Sans, sans-serif" font-size="6.5" fill="#111">4</text>
<text x="390.64" y="323.00" textLength="11.38" lengthAdjust="spacingAndGlyphs" font-family="Liberation Sans, sans-serif" font-size="9.3" fill="#111">10</text>
<text x="401.41" y="319.10" textLength="3.98" lengthAdjust="spacingAndGlyphs" font-family="Liberation Sans, sans-serif" font-size="6.5" fill="#111">5</text>
<text x="217" y="335.5" text-anchor="middle" font-family="Liberation Mono, monospace" stroke="#111" stroke-width="0.22" font-size="11.2" fill="#111">√s [GeV]</text>
<text transform="translate(13.7,280.3) rotate(-90)" text-anchor="middle" font-family="Liberation Mono, monospace" stroke="#111" stroke-width="0.22" font-size="11.6" fill="#111">K-factor</text>
<text transform="translate(13.20,160.30) rotate(-90)" text-anchor="start" font-family="Liberation Mono, monospace" stroke="#111" stroke-width="0.22" font-size="11.6" fill="#111">σ</text>
<text transform="translate(8.20,150.20) rotate(-90)" text-anchor="middle" font-family="Liberation Mono, monospace" stroke="#111" stroke-width="0.22" font-size="8.4" fill="#111">[</text>
<text transform="translate(4.60,145.60) rotate(-90)" text-anchor="middle" font-family="Liberation Mono, monospace" stroke="#111" stroke-width="0.22" font-size="6.0" fill="#111">1</text>
<text transform="translate(8.20,140.90) rotate(-90)" text-anchor="middle" font-family="Liberation Mono, monospace" stroke="#111" stroke-width="0.22" font-size="8.4" fill="#111">S</text>
<text transform="translate(10.20,136.20) rotate(-90)" text-anchor="middle" font-family="Liberation Mono, monospace" stroke="#111" stroke-width="0.22" font-size="6.0" fill="#111">0</text>
<text transform="translate(8.20,131.60) rotate(-90)" text-anchor="middle" font-family="Liberation Mono, monospace" stroke="#111" stroke-width="0.22" font-size="8.4" fill="#111">]</text>
<text transform="translate(13.20,121.80) rotate(-90)" text-anchor="start" font-family="Liberation Mono, monospace" stroke="#111" stroke-width="0.22" font-size="11.4" fill="#111">[nb]</text>
<text x="53.5" y="23.3" font-family="Liberation Mono, monospace" stroke="#111" stroke-width="0.22" font-size="12.6" fill="#111">CT18NLO, NLO, M=9.4 GeV,</text>
<text x="53.20" y="31.90" font-family="Liberation Mono, monospace" stroke="#111" stroke-width="0.22" font-size="8.9" fill="#111">1</text>
<text x="59.70" y="36.90" font-family="Liberation Mono, monospace" stroke="#111" stroke-width="0.22" font-size="12.6" fill="#111">S</text>
<text x="67.20" y="39.00" font-family="Liberation Mono, monospace" stroke="#111" stroke-width="0.22" font-size="8.9" fill="#111">0</text>
<text x="74.00" y="31.90" font-family="Liberation Mono, monospace" stroke="#111" stroke-width="0.22" font-size="8.9" fill="#111">(1)</text>
<text x="91.20" y="36.90" font-family="Liberation Mono, monospace" stroke="#111" stroke-width="0.22" font-size="12.6" fill="#111">-state,</text>
<text x="55.8" y="45.4" font-family="Liberation Sans, sans-serif" font-size="7.6" fill="#111" textLength="94" lengthAdjust="spacingAndGlyphs">channels:gg+qg+gq+qq</text>
<path d="M145.3,40.2 H149.3" stroke="#111" stroke-width="0.6"/>
<text x="299.47" y="196.60" font-family="Liberation Mono, monospace" stroke="#111" stroke-width="0.22" font-size="10.08" fill="#111" >5pt. var.</text>
<text x="278.90" y="198.50" font-family="Liberation Mono, monospace" stroke="#111" stroke-width="0.22" font-size="7.6" fill="#111" >F,</text>
<text x="288.52" y="198.50" font-family="Liberation Mono, monospace" stroke="#111" stroke-width="0.22" font-size="7.6" fill="#111" >R</text>
<text x="248.36" y="196.60" font-family="Liberation Mono, monospace" stroke="#111" stroke-width="0.22" font-size="10.08" fill="#111" >LO, μ</text>
<text x="299.47" y="208.40" font-family="Liberation Mono, monospace" stroke="#111" stroke-width="0.22" font-size="10.08" fill="#111" >5pt. var.</text>
<text x="278.90" y="210.30" font-family="Liberation Mono, monospace" stroke="#111" stroke-width="0.22" font-size="7.6" fill="#111" >F,</text>
<text x="288.52" y="210.30" font-family="Liberation Mono, monospace" stroke="#111" stroke-width="0.22" font-size="7.6" fill="#111" >R</text>
<text x="224.17" y="208.40" font-family="Liberation Mono, monospace" stroke="#111" stroke-width="0.22" font-size="10.08" fill="#111" >LO+NLO, μ</text>
<text x="341.80" y="220.60" font-family="Liberation Mono, monospace" stroke="#111" stroke-width="0.22" font-size="10.08" fill="#111" >LO</text>
<text x="317.61" y="232.20" font-family="Liberation Mono, monospace" stroke="#111" stroke-width="0.22" font-size="10.08" fill="#111" >LO+NLO</text>
<text x="341.80" y="243.80" font-family="Liberation Mono, monospace" stroke="#111" stroke-width="0.22" font-size="10.08" fill="#111" >=M</text>
<text x="336.40" y="245.70" font-family="Liberation Mono, monospace" stroke="#111" stroke-width="0.22" font-size="7.6" fill="#111" >R</text>
<text x="311.81" y="243.80" font-family="Liberation Mono, monospace" stroke="#111" stroke-width="0.22" font-size="10.08" fill="#111" >M, μ</text>
<text x="293.40" y="239.90" font-family="Liberation Mono, monospace" stroke="#111" stroke-width="0.22" font-size="7.6" fill="#111" letter-spacing="-0.15">-1/2</text>
<text x="281.10" y="243.80" font-family="Liberation Mono, monospace" stroke="#111" stroke-width="0.22" font-size="10.08" fill="#111" >=e</text>
<text x="276.00" y="245.70" font-family="Liberation Mono, monospace" stroke="#111" stroke-width="0.22" font-size="7.6" fill="#111" >F</text>
<text x="221.17" y="243.80" font-family="Liberation Mono, monospace" stroke="#111" stroke-width="0.22" font-size="10.08" fill="#111" >LO+NLO, μ</text>
<rect x="359.5" y="191.0" width="28.1" height="5.6" fill="#c8c8c8" stroke="#8c8c8c" stroke-width="0.8"/>
<clipPath id="lg"><rect x="359.5" y="202.6" width="28.1" height="6.0"/></clipPath>
<g clip-path="url(#lg)"><path d="M349.8,202.6 l6,6 M359.6,202.6 l6,6 M368.6,202.6 l6,6 M378.6,202.6 l6,6" stroke="#1a1aff" stroke-width="0.8"/></g>
<rect x="359.5" y="202.6" width="28.1" height="6.0" fill="none" stroke="#1a1aff" stroke-width="0.8"/>
<path d="M359.5,217.4 H387.6" stroke="#404040" stroke-width="1.5"/>
<path d="M359.5,228.9 H387.6" stroke="#0000ff" stroke-width="1.85"/>
<path d="M359.5,240.6 H366.9 M377.7,240.6 H385.2" stroke="#ff00ff" stroke-width="1.4"/>
</svg>
</body></html>
